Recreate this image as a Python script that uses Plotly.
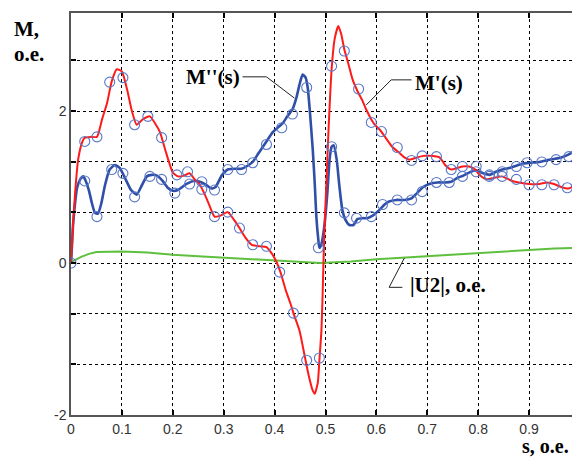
import plotly.graph_objects as go

# ---- data ----
red_s = [0, 0.004, 0.008, 0.014, 0.022, 0.027, 0.039, 0.051, 0.061, 0.071, 0.080, 0.090, 0.100, 0.110,
         0.120, 0.129, 0.141, 0.155, 0.165, 0.175, 0.186, 0.200, 0.210, 0.222, 0.233, 0.243, 0.253,
         0.263, 0.273, 0.282, 0.292, 0.308, 0.320, 0.331, 0.343, 0.355, 0.371, 0.384, 0.394, 0.404,
         0.412, 0.422, 0.431, 0.437, 0.449, 0.459, 0.467, 0.475, 0.479, 0.485, 0.488, 0.492, 0.494,
         0.496, 0.498, 0.502, 0.506, 0.512, 0.518, 0.525, 0.531, 0.537, 0.545, 0.553, 0.563, 0.573,
         0.580, 0.590, 0.598, 0.606, 0.618, 0.631, 0.645, 0.655, 0.665, 0.680, 0.692, 0.704, 0.724,
         0.735, 0.747, 0.759, 0.769, 0.782, 0.794, 0.804, 0.816, 0.831, 0.847, 0.857, 0.867, 0.880,
         0.900, 0.920, 0.935, 0.949, 0.963, 0.978, 0.988, 1.0]
red_m = [0, 0.50, 0.92, 1.36, 1.59, 1.65, 1.66, 1.66, 1.89, 2.11, 2.39, 2.55, 2.52, 2.29,
         1.99, 1.82, 1.89, 1.93, 1.84, 1.72, 1.47, 1.19, 1.14, 1.15, 1.18, 1.10, 1.03,
         0.90, 0.74, 0.61, 0.62, 0.67, 0.57, 0.46, 0.33, 0.24, 0.22, 0.21, 0.13, 0.01,
         -0.13, -0.36, -0.53, -0.66, -0.89, -1.22, -1.48, -1.68, -1.72, -1.57, -1.28, -0.89, -0.49,
         0.0, 0.44, 1.10, 1.76, 2.55, 2.95, 3.12, 3.01, 2.81, 2.62, 2.42, 2.26, 2.13,
         2.02, 1.89, 1.81, 1.76, 1.65, 1.53, 1.45, 1.39, 1.36, 1.39, 1.41, 1.41, 1.39,
         1.29, 1.23, 1.25, 1.27, 1.27, 1.23, 1.15, 1.10, 1.12, 1.14, 1.11, 1.08, 1.06,
         1.04, 1.04, 1.06, 1.04, 1.00, 0.98, 1.02, 1.10]

blue_s = [0, 0.002, 0.004, 0.008, 0.012, 0.018, 0.024, 0.029, 0.035, 0.041, 0.047, 0.053, 0.059,
          0.067, 0.076, 0.086, 0.096, 0.106, 0.118, 0.129, 0.139, 0.149, 0.159, 0.169, 0.180, 0.190,
          0.200, 0.210, 0.227, 0.241, 0.253, 0.265, 0.276, 0.284, 0.296, 0.308, 0.322, 0.335, 0.347,
          0.357, 0.367, 0.376, 0.386, 0.396, 0.406, 0.416, 0.425, 0.435, 0.443, 0.449, 0.455, 0.461,
          0.465, 0.469, 0.475, 0.479, 0.482, 0.486, 0.488, 0.492, 0.498, 0.504, 0.508, 0.512, 0.516,
          0.522, 0.527, 0.533, 0.539, 0.547, 0.555, 0.563, 0.573, 0.582, 0.592, 0.606, 0.616, 0.625,
          0.639, 0.655, 0.669, 0.680, 0.692, 0.704, 0.720, 0.735, 0.747, 0.759, 0.771, 0.782, 0.796,
          0.810, 0.822, 0.835, 0.847, 0.861, 0.875, 0.888, 0.904, 0.920, 0.933, 0.949, 0.963, 0.978,
          0.988, 1.0]
blue_m = [0, 0.24, 0.50, 0.79, 0.99, 1.10, 1.14, 1.08, 0.96, 0.79, 0.66, 0.65, 0.77,
          1.03, 1.23, 1.29, 1.25, 1.12, 0.96, 0.90, 1.02, 1.14, 1.16, 1.15, 1.08, 0.99,
          0.95, 0.96, 1.04, 1.08, 1.07, 1.03, 0.98, 1.00, 1.15, 1.23, 1.24, 1.24, 1.28,
          1.33, 1.43, 1.52, 1.62, 1.72, 1.78, 1.84, 1.93, 2.02, 2.18, 2.35, 2.48, 2.44,
          2.31, 2.02, 1.49, 1.03, 0.61, 0.30, 0.20, 0.25, 0.50, 0.96, 1.36, 1.53, 1.55,
          1.36, 1.03, 0.70, 0.57, 0.50, 0.50, 0.58, 0.59, 0.59, 0.62, 0.70, 0.77, 0.81,
          0.83, 0.83, 0.85, 0.92, 1.00, 1.04, 1.06, 1.06, 1.07, 1.12, 1.15, 1.19, 1.22,
          1.18, 1.16, 1.20, 1.23, 1.25, 1.28, 1.31, 1.32, 1.33, 1.35, 1.37, 1.39, 1.43,
          1.47, 1.52]

green_s = [0, 0.005, 0.02, 0.035, 0.05, 0.10, 0.15, 0.20, 0.25, 0.30, 0.35, 0.40, 0.45, 0.49,
           0.55, 0.60, 0.65, 0.70, 0.75, 0.80, 0.85, 0.90, 0.95, 1.0]
green_u = [0, 0.03, 0.08, 0.12, 0.145, 0.15, 0.14, 0.11, 0.09, 0.07, 0.05, 0.03, 0.015, 0.0,
           0.02, 0.05, 0.07, 0.09, 0.11, 0.13, 0.15, 0.17, 0.19, 0.20]

blue_pts_s = [0.000, 0.027, 0.051, 0.080, 0.102, 0.125, 0.155, 0.178, 0.204, 0.233, 0.257, 0.282,
              0.308, 0.335, 0.357, 0.384, 0.414, 0.435, 0.463, 0.486, 0.512, 0.537, 0.561, 0.590,
              0.612, 0.641, 0.669, 0.690, 0.718, 0.743, 0.769, 0.796, 0.822, 0.847, 0.875, 0.896,
              0.925, 0.953, 0.978]
blue_pts_m = [0.00, 1.08, 0.61, 1.23, 1.18, 0.87, 1.14, 1.10, 0.92, 1.04, 1.07, 0.96,
              1.23, 1.23, 1.32, 1.56, 1.78, 1.96, 2.31, 0.20, 1.53, 0.66, 0.59, 0.61,
              0.77, 0.83, 0.83, 0.94, 1.06, 1.06, 1.14, 1.20, 1.16, 1.20, 1.27, 1.32,
              1.33, 1.36, 1.40]

red_pts_s = [0.027, 0.051, 0.076, 0.102, 0.125, 0.151, 0.178, 0.208, 0.229, 0.257, 0.282, 0.308,
             0.331, 0.357, 0.384, 0.410, 0.437, 0.463, 0.488, 0.512, 0.537, 0.565, 0.590, 0.610,
             0.641, 0.669, 0.690, 0.718, 0.747, 0.769, 0.796, 0.822, 0.847, 0.875, 0.900, 0.925,
             0.949, 0.975, 1.0]
red_pts_m = [1.60, 1.66, 2.38, 2.44, 1.82, 1.93, 1.65, 1.16, 1.20, 0.97, 0.61, 0.67,
             0.46, 0.24, 0.22, -0.12, -0.66, -1.28, -1.25, 2.59, 2.79, 2.29, 1.85, 1.73,
             1.52, 1.35, 1.41, 1.40, 1.23, 1.27, 1.27, 1.14, 1.14, 1.10, 1.03, 1.03,
             1.03, 0.99, 1.10]

x_ticks = [0, 0.1, 0.2, 0.3, 0.4, 0.5, 0.6, 0.7, 0.8, 0.9, 1.0]
x_labels = ["0", "0.1", "0.2", "0.3", "0.4", "0.5", "0.6", "0.7", "0.8", "0.9", "1"]
y_ticks = [-2, -4/3, -2/3, 0, 2/3, 4/3, 2, 8/3]
y_labels = ["-2", "", "", "0", "", "", "2", ""]

# page body has an 8px margin, so the figure is offset by 8px
OFF = 8
W, H = 580 - OFF, 458 - OFF
PL, PR, PT, PB = 71, 580, 13, 415   # plot area in window pixels

fig = go.Figure()
fig.add_trace(go.Scatter(x=green_s, y=green_u, mode="lines",
                         line=dict(color="#5fbf3f", width=2), hoverinfo="skip"))
fig.add_trace(go.Scatter(x=blue_s, y=blue_m, mode="lines",
                         line=dict(color="#2f4fa8", width=2.6, shape="spline", smoothing=0.5)))
fig.add_trace(go.Scatter(x=red_s, y=red_m, mode="lines",
                         line=dict(color="#ff1a1a", width=2, shape="spline", smoothing=0.5)))
marker_style = dict(symbol="circle-open", size=10, color="#5a78c8", line=dict(width=1.1, color="#5a78c8"))
fig.add_trace(go.Scatter(x=blue_pts_s, y=blue_pts_m, mode="markers", marker=marker_style))
fig.add_trace(go.Scatter(x=red_pts_s, y=red_pts_m, mode="markers", marker=marker_style))

serif_bold = dict(family="Liberation Serif", size=21, color="#000000")

leaders = [
    [(0.337, 2.45), (0.384, 2.45), (0.439, 2.17)],
    [(0.669, 2.41), (0.629, 2.41), (0.580, 2.08)],
    [(0.655, 0.066), (0.625, -0.32), (0.651, -0.32)],
]
for pts in leaders:
    path = "M " + " L ".join(f"{a},{b}" for a, b in pts)
    fig.add_shape(type="path", path=path, xref="x", yref="y",
                  line=dict(color="#222222", width=1))

fig.add_annotation(x=0.336, y=2.45, xref="x", yref="y", text="<b>M''(s)</b>", showarrow=False,
                   xanchor="right", yanchor="middle", font=serif_bold)
fig.add_annotation(x=0.672, y=2.37, xref="x", yref="y", text="<b>M'(s)</b>", showarrow=False,
                   xanchor="left", yanchor="middle", font=serif_bold)
fig.add_annotation(x=0.663, y=-0.29, xref="x", yref="y", text="<b>|U2|, o.e.</b>", showarrow=False,
                   xanchor="left", yanchor="middle", font=serif_bold)


def px(xp, yp):
    return (xp - PL) / (PR - PL), (PB - yp) / (PB - PT)


for txt, (xp, yp), xa, sz in [("<b>M,</b>", (12, 29), "left", 21),
                              ("<b>o.e.</b>", (12, 54), "left", 21),
                              ("<b>s, o.e.</b>", (571, 446), "right", 20)]:
    xx, yy = px(xp, yp)
    fig.add_annotation(x=xx, y=yy, xref="paper", yref="paper", text=txt, showarrow=False,
                       xanchor=xa, yanchor="middle", font=dict(serif_bold, size=sz))

fig.update_layout(
    width=W, height=H,
    margin=dict(l=PL - OFF, r=0, t=PT - OFF, b=458 - PB),
    paper_bgcolor="white", plot_bgcolor="white",
    showlegend=False,
    xaxis=dict(range=[0, 1], tickvals=x_ticks, ticktext=x_labels,
               showgrid=True, gridcolor="#000000", gridwidth=1, griddash="3px,3px",
               zeroline=False, showline=True, linecolor="#555555", linewidth=1.5, mirror="ticks",
               ticks="inside", ticklen=5, tickcolor="#000000", tickwidth=1.5,
               tickfont=dict(family="Liberation Sans", size=14, color="#333333")),
    yaxis=dict(range=[-2, 3.29], tickvals=y_ticks, ticktext=y_labels,
               showgrid=True, gridcolor="#000000", gridwidth=1, griddash="3px,3px",
               zeroline=False, showline=True, linecolor="#555555", linewidth=1.5, mirror=False,
               ticks="inside", ticklen=5, tickcolor="#000000", tickwidth=1.5,
               tickfont=dict(family="Liberation Sans", size=14, color="#333333")),
)

fig.write_html("out.html")
